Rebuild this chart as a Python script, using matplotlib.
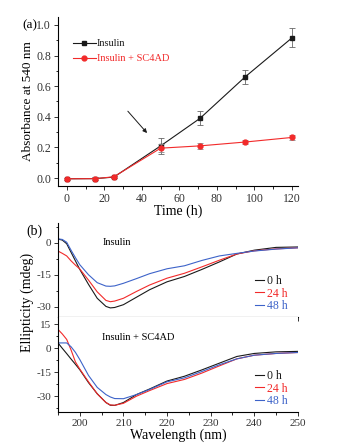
import matplotlib
matplotlib.use("Agg")
import matplotlib.pyplot as plt
from matplotlib.ticker import MultipleLocator

plt.rcParams["font.family"] = ["Liberation Serif", "DejaVu Serif"]
plt.rcParams["axes.unicode_minus"] = False

# (a) turbidity vs time
time_h = [0, 15, 25, 50, 71, 95, 120]
abs_insulin = [-0.005, -0.004, 0.006, 0.21, 0.39, 0.66, 0.915]
err_insulin = [0.008, 0.008, 0.008, 0.05, 0.045, 0.048, 0.062]
abs_sc4ad = [-0.005, -0.004, 0.008, 0.195, 0.21, 0.235, 0.265]
err_sc4ad = [0.008, 0.008, 0.008, 0.025, 0.02, 0.015, 0.017]

# (b) CD spectra
wl = [195, 196, 197, 198, 199, 200, 202, 204, 206, 207, 208, 210,
      213, 216, 220, 224, 228, 232, 236, 240, 245, 250]
ins_0h = [1.7, 1.2, -0.5, -4.5, -8.5, -12.5, -19.5, -26, -29.8, -30.5, -30.3, -29,
          -25.5, -22, -18.3, -15.8, -12.5, -9, -5.3, -3.5, -2.2, -2]
ins_24h = [-3.9, -5, -6.2, -8.5, -10.5, -12.3, -17.5, -23, -27, -27.6, -27.3, -26,
           -22.8, -19.8, -16.6, -14.3, -11.3, -8.2, -5.3, -3.8, -2.9, -2.4]
ins_48h = [1.8, 1.5, 0.2, -3.5, -7, -10.3, -15, -18.7, -20.3, -20.4, -20.2, -19,
           -16.8, -14.5, -12.2, -10.8, -8.3, -6.2, -5, -3.9, -3, -2.4]
sc_0h = [3.4, 0, -3.3, -6.7, -10, -13.4, -21.5, -28.5, -34, -35.7, -35.8, -34,
         -29, -25.5, -20.5, -17.5, -13.5, -9.3, -5.1, -3.2, -2.2, -1.9]
sc_24h = [11.9, 9, 5.6, -1, -8.5, -13, -21, -28.5, -34, -35.5, -35.7, -34.5,
          -30, -26.5, -22.1, -19.5, -15.5, -11, -6.6, -4.3, -3.2, -2.6]
sc_48h = [3.4, 3.4, 3.4, 1, -2.5, -7, -17, -24.5, -29, -30.5, -31.5, -31.6,
          -29, -25.8, -21, -18.5, -14.5, -10.3, -6.6, -4.3, -3.2, -2.6]

BLACK = "#1a1a1a"
RED = "#f22a2a"
BLUE = "#3d63c9"
TICK = "#333333"

fig = plt.figure(figsize=(3.37, 4.46), dpi=100)

# ---- panel (a)
ax = fig.add_axes([0.172, 0.583, 0.712, 0.379])
for y, err, c, m, ec, name in ((abs_insulin, err_insulin, BLACK, "s", "#666666", "Insulin"),
                               (abs_sc4ad, err_sc4ad, RED, "o", "#888888", "Insulin + SC4AD")):
    ax.errorbar(time_h, y, yerr=err, fmt="none", capsize=2.2,
                elinewidth=0.6, capthick=0.6, ecolor=ec)
    ax.plot(time_h, y, color=c, lw=0.8, marker=m, ms=3.5, label=name)
ax.annotate("", xy=(43.7, 0.28), xytext=(31.5, 0.45),
            arrowprops=dict(arrowstyle="-|>", color=BLACK, lw=0.7,
                            mutation_scale=6))
ax.set_xlim(-4.8, 123.2)
ax.set_ylim(-0.052, 1.052)
ax.xaxis.set_major_locator(MultipleLocator(20))
ax.xaxis.set_minor_locator(MultipleLocator(10))
ax.yaxis.set_major_locator(MultipleLocator(0.2))
ax.yaxis.set_minor_locator(MultipleLocator(0.1))
ax.yaxis.set_major_formatter(plt.FormatStrFormatter("%.1f"))
for s in ("top", "right"):
    ax.spines[s].set_visible(False)
ax.tick_params(labelsize=8.5, colors=TICK, length=3, width=0.7, pad=2)
ax.tick_params(which="minor", length=1.8, width=0.6)
ax.set_xlabel("Time (h)", fontsize=10, labelpad=0)
ax.set_ylabel("Absorbance at 540 nm", fontsize=9.5, labelpad=1.5)
leg = ax.legend(loc="upper left", bbox_to_anchor=(0.04, 0.9), frameon=False,
                fontsize=7.5, handlelength=2.2, handletextpad=0.1,
                labelspacing=0.55, borderpad=0)
for t, c in zip(leg.get_texts(), (BLACK, RED)):
    t.set_color(c)
fig.text(0.065, 1 - 25 / 446, "(a)", fontsize=9.5, va="center")

# ---- panel (b)
ax1 = fig.add_axes([0.172, 0.289, 0.712, 0.211])
ax2 = fig.add_axes([0.172, 0.076, 0.712, 0.213])
for a, ys, ylim, ticks, label in (
        (ax1, (ins_0h, ins_24h, ins_48h), (-34.8, 9.2), (0, -15, -30), "Insulin"),
        (ax2, (sc_0h, sc_24h, sc_48h), (-40, 19.6), (15, 0, -15, -30), "Insulin + SC4AD")):
    for y, c, name in zip(ys, (BLACK, RED, BLUE), ("0 h", "24 h", "48 h")):
        a.plot(wl, y, color=c, lw=0.8, label=name)
    a.set_xlim(195, 250)
    a.set_ylim(*ylim)
    a.set_yticks(ticks)
    a.yaxis.set_minor_locator(MultipleLocator(7.5))
    a.xaxis.set_major_locator(MultipleLocator(10))
    a.xaxis.set_minor_locator(MultipleLocator(5))
    for s in ("top", "right"):
        a.spines[s].set_visible(False)
    a.tick_params(labelsize=8, colors=TICK, length=3, width=0.7, pad=2)
    a.tick_params(which="minor", length=1.8, width=0.6)
    a.text(0.185, 0.79, label, transform=a.transAxes, fontsize=7.5, va="center")
    lg = a.legend(loc="lower right", bbox_to_anchor=(0.98, -0.01), frameon=False,
                  fontsize=8.5, handlelength=0.7, handletextpad=0.25,
                  labelspacing=0.05, borderpad=0)
    for t, c in zip(lg.get_texts(), (BLACK, RED, BLUE)):
        t.set_color(c)

ax1.tick_params(axis="x", labelbottom=False)
ax2.set_xlabel("Wavelength (nm)", fontsize=10, labelpad=0)
fig.text(0.082, 1 - 302 / 446, "Ellipticity (mdeg)", fontsize=10,
         rotation=90, ha="center", va="center")
fig.text(0.077, 1 - 231 / 446, "(b)", fontsize=10, va="center")

fig.savefig("out.png", dpi=100)
